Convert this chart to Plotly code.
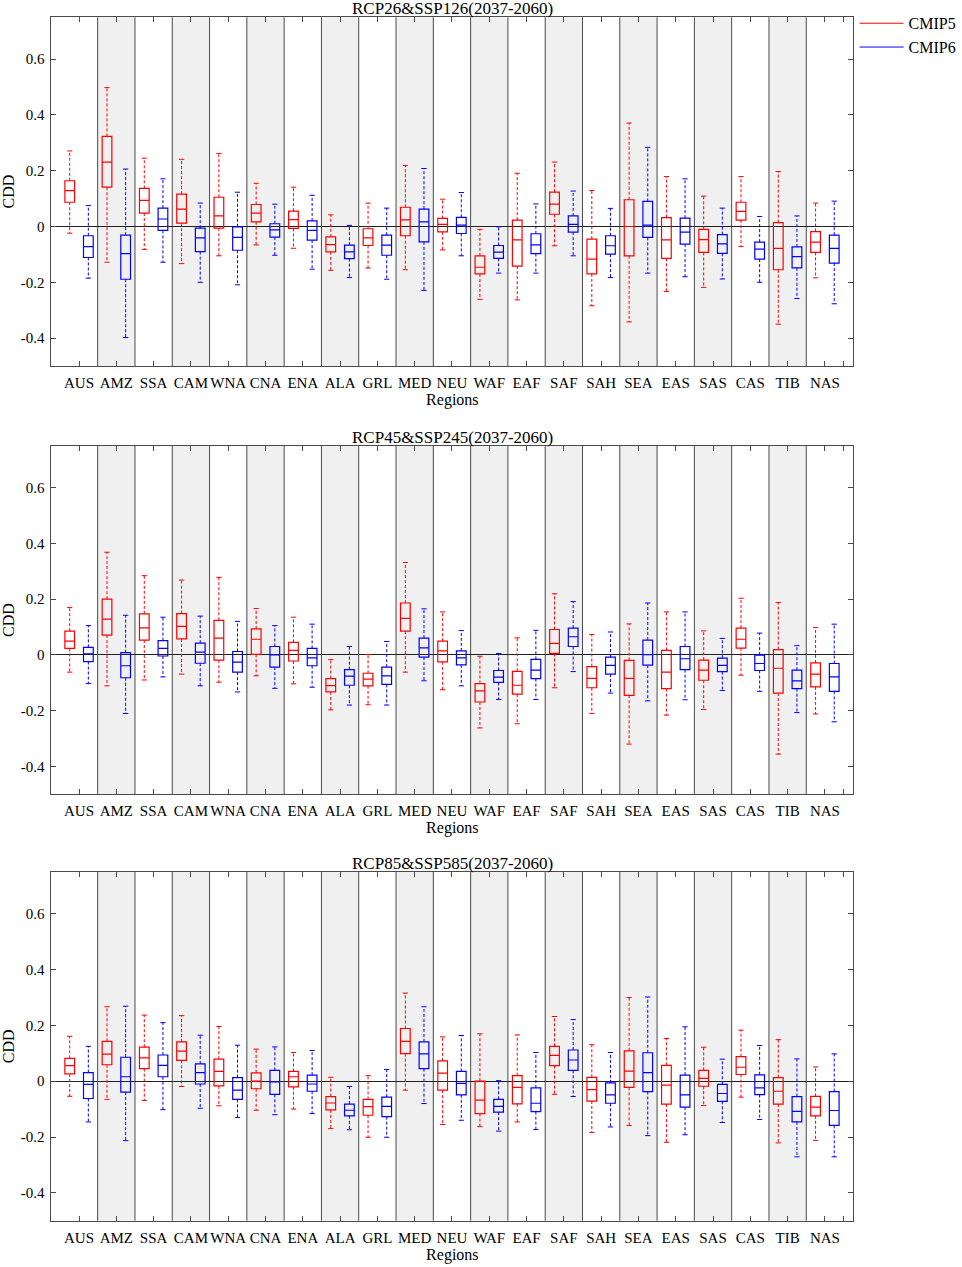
import plotly.graph_objects as go

regions = ["AUS", "AMZ", "SSA", "CAM", "WNA", "CNA", "ENA", "ALA", "GRL", "MED", "NEU",
           "WAF", "EAF", "SAF", "SAH", "SEA", "EAS", "SAS", "CAS", "TIB", "NAS"]

titles = ["RCP26&SSP126(2037-2060)", "RCP45&SSP245(2037-2060)", "RCP85&SSP585(2037-2060)"]

# each row: (lower whisker, q1, median, q3, upper whisker), one row per region
cmip5_126 = [
    (-0.024, 0.087, 0.129, 0.164, 0.271), (-0.128, 0.141, 0.231, 0.323, 0.498),
    (-0.082, 0.048, 0.094, 0.137, 0.245), (-0.133, 0.012, 0.062, 0.116, 0.241),
    (-0.105, -0.006, 0.038, 0.105, 0.262), (-0.066, 0.017, 0.048, 0.079, 0.155),
    (-0.078, -0.007, 0.025, 0.055, 0.141), (-0.157, -0.091, -0.065, -0.037, 0.042),
    (-0.149, -0.068, -0.041, -0.008, 0.084), (-0.155, -0.033, 0.024, 0.069, 0.219),
    (-0.084, -0.019, 0.008, 0.029, 0.098), (-0.261, -0.170, -0.146, -0.105, -0.010),
    (-0.263, -0.142, -0.048, 0.023, 0.191), (-0.069, 0.044, 0.080, 0.123, 0.231),
    (-0.284, -0.170, -0.117, -0.045, 0.129), (-0.342, -0.105, 0.000, 0.096, 0.371),
    (-0.233, -0.114, -0.048, 0.032, 0.179), (-0.218, -0.093, -0.047, -0.010, 0.109),
    (-0.072, 0.023, 0.054, 0.087, 0.179), (-0.350, -0.155, -0.078, 0.014, 0.197),
    (-0.184, -0.093, -0.056, -0.018, 0.084),
]
cmip6_126 = [
    (-0.185, -0.111, -0.072, -0.033, 0.075), (-0.398, -0.189, -0.097, -0.031, 0.206),
    (-0.128, -0.014, 0.027, 0.066, 0.171), (-0.200, -0.090, -0.041, -0.006, 0.084),
    (-0.209, -0.085, -0.039, -0.001, 0.123), (-0.103, -0.038, -0.012, 0.010, 0.080),
    (-0.153, -0.049, -0.014, 0.020, 0.112), (-0.183, -0.115, -0.091, -0.067, 0.004),
    (-0.189, -0.103, -0.067, -0.031, 0.066), (-0.229, -0.055, 0.017, 0.062, 0.208),
    (-0.105, -0.025, 0.005, 0.033, 0.122), (-0.167, -0.114, -0.092, -0.068, -0.001),
    (-0.167, -0.097, -0.066, -0.026, 0.081), (-0.105, -0.020, 0.008, 0.038, 0.127),
    (-0.183, -0.099, -0.069, -0.033, 0.065), (-0.167, -0.039, 0.005, 0.090, 0.284),
    (-0.180, -0.063, -0.020, 0.030, 0.171), (-0.188, -0.096, -0.062, -0.029, 0.066),
    (-0.200, -0.117, -0.081, -0.056, 0.036), (-0.258, -0.148, -0.108, -0.073, 0.038),
    (-0.277, -0.131, -0.078, -0.031, 0.091),
]
cmip5_245 = [
    (-0.062, 0.023, 0.049, 0.085, 0.170), (-0.111, 0.071, 0.128, 0.200, 0.368),
    (-0.090, 0.053, 0.097, 0.147, 0.284), (-0.069, 0.057, 0.102, 0.148, 0.268),
    (-0.098, -0.019, 0.060, 0.124, 0.278), (-0.075, 0.002, 0.056, 0.093, 0.166),
    (-0.104, -0.022, 0.016, 0.045, 0.135), (-0.197, -0.133, -0.110, -0.085, -0.017),
    (-0.179, -0.111, -0.087, -0.066, 0.001), (-0.062, 0.085, 0.131, 0.186, 0.331),
    (-0.125, -0.025, 0.014, 0.049, 0.154), (-0.262, -0.169, -0.129, -0.103, -0.005),
    (-0.247, -0.141, -0.109, -0.059, 0.061), (-0.118, 0.005, 0.041, 0.091, 0.219),
    (-0.210, -0.118, -0.084, -0.042, 0.073), (-0.320, -0.145, -0.084, -0.020, 0.111),
    (-0.216, -0.121, -0.062, 0.016, 0.154), (-0.196, -0.091, -0.055, -0.019, 0.086),
    (-0.073, 0.024, 0.056, 0.096, 0.203), (-0.356, -0.137, -0.048, 0.019, 0.188),
    (-0.212, -0.115, -0.069, -0.029, 0.098),
]
cmip6_245 = [
    (-0.103, -0.024, 0.004, 0.027, 0.105), (-0.210, -0.082, -0.039, 0.008, 0.142),
    (-0.079, -0.004, 0.023, 0.051, 0.135), (-0.111, -0.030, 0.010, 0.042, 0.139),
    (-0.133, -0.062, -0.026, 0.012, 0.120), (-0.120, -0.044, 0.000, 0.030, 0.105),
    (-0.116, -0.039, -0.011, 0.023, 0.110), (-0.180, -0.109, -0.076, -0.053, 0.030),
    (-0.180, -0.106, -0.075, -0.044, 0.048), (-0.093, -0.008, 0.025, 0.060, 0.165),
    (-0.111, -0.036, -0.011, 0.014, 0.087), (-0.160, -0.099, -0.080, -0.056, 0.005),
    (-0.160, -0.085, -0.055, -0.016, 0.088), (-0.060, 0.030, 0.065, 0.096, 0.191),
    (-0.137, -0.069, -0.038, -0.008, 0.082), (-0.165, -0.037, 0.001, 0.053, 0.186),
    (-0.161, -0.053, -0.014, 0.030, 0.154), (-0.128, -0.060, -0.038, -0.012, 0.059),
    (-0.131, -0.056, -0.031, -0.001, 0.078), (-0.207, -0.121, -0.093, -0.055, 0.033),
    (-0.240, -0.131, -0.079, -0.031, 0.110),
]
cmip5_585 = [
    (-0.054, 0.026, 0.056, 0.082, 0.161), (-0.065, 0.059, 0.097, 0.143, 0.267),
    (-0.069, 0.045, 0.084, 0.122, 0.237), (-0.019, 0.075, 0.108, 0.141, 0.235),
    (-0.088, -0.017, 0.035, 0.079, 0.196), (-0.104, -0.027, 0.000, 0.030, 0.115),
    (-0.100, -0.020, 0.016, 0.035, 0.103), (-0.170, -0.103, -0.078, -0.055, 0.014),
    (-0.201, -0.122, -0.091, -0.065, 0.020), (-0.032, 0.099, 0.143, 0.189, 0.316),
    (-0.155, -0.032, 0.029, 0.073, 0.159), (-0.163, -0.116, -0.068, 0.000, 0.170),
    (-0.146, -0.081, -0.022, 0.020, 0.166), (-0.047, 0.056, 0.093, 0.125, 0.232),
    (-0.184, -0.071, -0.030, 0.014, 0.131), (-0.159, -0.022, 0.036, 0.109, 0.300),
    (-0.219, -0.082, -0.014, 0.057, 0.153), (-0.087, -0.018, 0.010, 0.039, 0.122),
    (-0.057, 0.024, 0.050, 0.088, 0.183), (-0.221, -0.082, -0.036, 0.013, 0.149),
    (-0.212, -0.124, -0.093, -0.054, 0.051),
]
cmip6_585 = [
    (-0.146, -0.062, -0.011, 0.031, 0.125), (-0.213, -0.039, 0.016, 0.086, 0.269),
    (-0.102, 0.016, 0.057, 0.094, 0.210), (-0.097, -0.010, 0.031, 0.062, 0.165),
    (-0.130, -0.065, -0.032, 0.013, 0.129), (-0.120, -0.047, -0.002, 0.039, 0.123),
    (-0.116, -0.036, -0.010, 0.022, 0.110), (-0.174, -0.124, -0.104, -0.082, -0.019),
    (-0.201, -0.127, -0.090, -0.057, 0.042), (-0.080, 0.045, 0.098, 0.141, 0.267),
    (-0.140, -0.049, -0.008, 0.035, 0.164), (-0.179, -0.111, -0.090, -0.065, 0.002),
    (-0.173, -0.109, -0.079, -0.024, 0.103), (-0.055, 0.039, 0.076, 0.112, 0.221),
    (-0.164, -0.079, -0.049, -0.006, 0.103), (-0.195, -0.037, 0.031, 0.102, 0.302),
    (-0.192, -0.093, -0.049, 0.022, 0.195), (-0.148, -0.072, -0.044, -0.011, 0.079),
    (-0.137, -0.048, -0.024, 0.023, 0.128), (-0.271, -0.146, -0.108, -0.055, 0.080),
    (-0.271, -0.158, -0.105, -0.037, 0.098),
]

panels = [(cmip5_126, cmip6_126), (cmip5_245, cmip6_245), (cmip5_585, cmip6_585)]
y_ticks = [-0.4, -0.2, 0, 0.2, 0.4, 0.6]
y_ticktext = ["-0.4", "-0.2", "0", "0.2", "0.4", "0.6"]

FONT = "Liberation Serif, Times New Roman, serif"
RED = "#ff0000"
BLUE = "#0000ff"
FRAME = "#4a4a4a"
SHADE = "#f0f0f0"

W, H = 962, 1267
x_dom = [51.7 / W, 857.7 / W]
# panel top / bottom in pixels
panel_px = [(17.3, 366.0), (445.7, 794.3), (872.0, 1220.7)]

fig = go.Figure()
shapes = []
annotations = []

offset = 0.25
box_w = 0.26
cap = 0.07

for p, (d5, d6) in enumerate(panels):
    xa = "x" if p == 0 else "x%d" % (p + 1)
    ya = "y" if p == 0 else "y%d" % (p + 1)
    for data, col, dx in ((d5, RED, -offset), (d6, BLUE, offset)):
        xs = [i + 1 + dx for i in range(len(regions))]
        low = [r[0] for r in data]
        q1 = [r[1] for r in data]
        med = [r[2] for r in data]
        q3 = [r[3] for r in data]
        up = [r[4] for r in data]
        # boxes with median (whiskers drawn separately so they can be dashed)
        fig.add_trace(go.Box(
            x=xs, q1=q1, median=med, q3=q3, lowerfence=q1, upperfence=q3,
            width=box_w, line=dict(color=col, width=1.2),
            fillcolor="rgba(0,0,0,0)", boxpoints=False, whiskerwidth=0,
            showlegend=False, hoverinfo="skip", xaxis=xa, yaxis=ya))
        wx, wy, cx, cy = [], [], [], []
        for x, a, b, c, d in zip(xs, low, q1, q3, up):
            wx += [x, x, None, x, x, None]
            wy += [c, d, None, b, a, None]
            cx += [x - cap, x + cap, None, x - cap, x + cap, None]
            cy += [d, d, None, a, a, None]
        fig.add_trace(go.Scatter(
            x=wx, y=wy, mode="lines", line=dict(color=col, width=1, dash="3px,2px"),
            showlegend=False, hoverinfo="skip", xaxis=xa, yaxis=ya))
        fig.add_trace(go.Scatter(
            x=cx, y=cy, mode="lines", line=dict(color=col, width=1),
            showlegend=False, hoverinfo="skip", xaxis=xa, yaxis=ya))

    ydom = "%s domain" % ya
    for i in range(1, len(regions), 2):
        shapes.append(dict(type="rect", xref=xa, yref=ydom, x0=i + 0.5, x1=i + 1.5,
                           y0=0, y1=1, fillcolor=SHADE, line=dict(width=0), layer="below"))
    for i in range(1, len(regions)):
        shapes.append(dict(type="line", xref=xa, yref=ydom, x0=i + 0.5, x1=i + 0.5,
                           y0=0, y1=1, line=dict(color=FRAME, width=1), layer="below"))

    top, bot = panel_px[p]
    dom = [1 - bot / H, 1 - top / H]
    axis_x = dict(
        domain=x_dom, anchor=ya, range=[0.26, 21.76],
        tickvals=list(range(1, 22)) + [21.5], ticktext=regions + [""],
        ticks="inside", ticklen=5, tickcolor=FRAME, showline=True, linecolor=FRAME,
        linewidth=1, mirror="ticks", showgrid=False, zeroline=False,
        tickfont=dict(family=FONT, size=15, color="black"), ticklabelstandoff=3,
        title=dict(text="Regions", font=dict(family=FONT, size=16, color="black"),
                   standoff=3),
    )
    axis_y = dict(
        domain=dom, anchor=xa, range=[-0.5, 0.75],
        tickvals=y_ticks, ticktext=y_ticktext,
        ticks="inside", ticklen=5, tickcolor=FRAME, showline=True, linecolor=FRAME,
        linewidth=1, mirror="ticks", showgrid=False,
        zeroline=True, zerolinecolor="#202020", zerolinewidth=1,
        tickfont=dict(family=FONT, size=15, color="black"), ticklabelstandoff=3,
        title=dict(text="CDD", font=dict(family=FONT, size=16, color="black"),
                   standoff=10),
    )
    fig.update_layout({("xaxis" if p == 0 else "xaxis%d" % (p + 1)): axis_x,
                       ("yaxis" if p == 0 else "yaxis%d" % (p + 1)): axis_y})
    annotations.append(dict(text=titles[p], xref="paper", yref="paper",
                            x=(x_dom[0] + x_dom[1]) / 2, y=dom[1], xanchor="center",
                            yanchor="bottom", showarrow=False, yshift=-3,
                            font=dict(family=FONT, size=17, color="black")))

# legend entries
for name, col in (("CMIP5", RED), ("CMIP6", BLUE)):
    fig.add_trace(go.Scatter(x=[None], y=[None], mode="lines", name=name,
                             line=dict(color=col, width=1)))

fig.update_layout(
    width=W, height=H, template="none",
    margin=dict(l=0, r=0, t=0, b=0),
    paper_bgcolor="white", plot_bgcolor="white",
    boxmode="overlay",
    font=dict(family=FONT, size=15, color="black"),
    shapes=shapes, annotations=annotations,
    legend=dict(x=0.893, y=0.995, xanchor="left", yanchor="top",
                bgcolor="rgba(0,0,0,0)", font=dict(family=FONT, size=16),
                tracegroupgap=0, itemwidth=44),
)

# the page's default 8px body margin would shift the figure
fig.write_html("out.html", config={"displayModeBar": False},
               post_script="document.body.style.margin='0';")
